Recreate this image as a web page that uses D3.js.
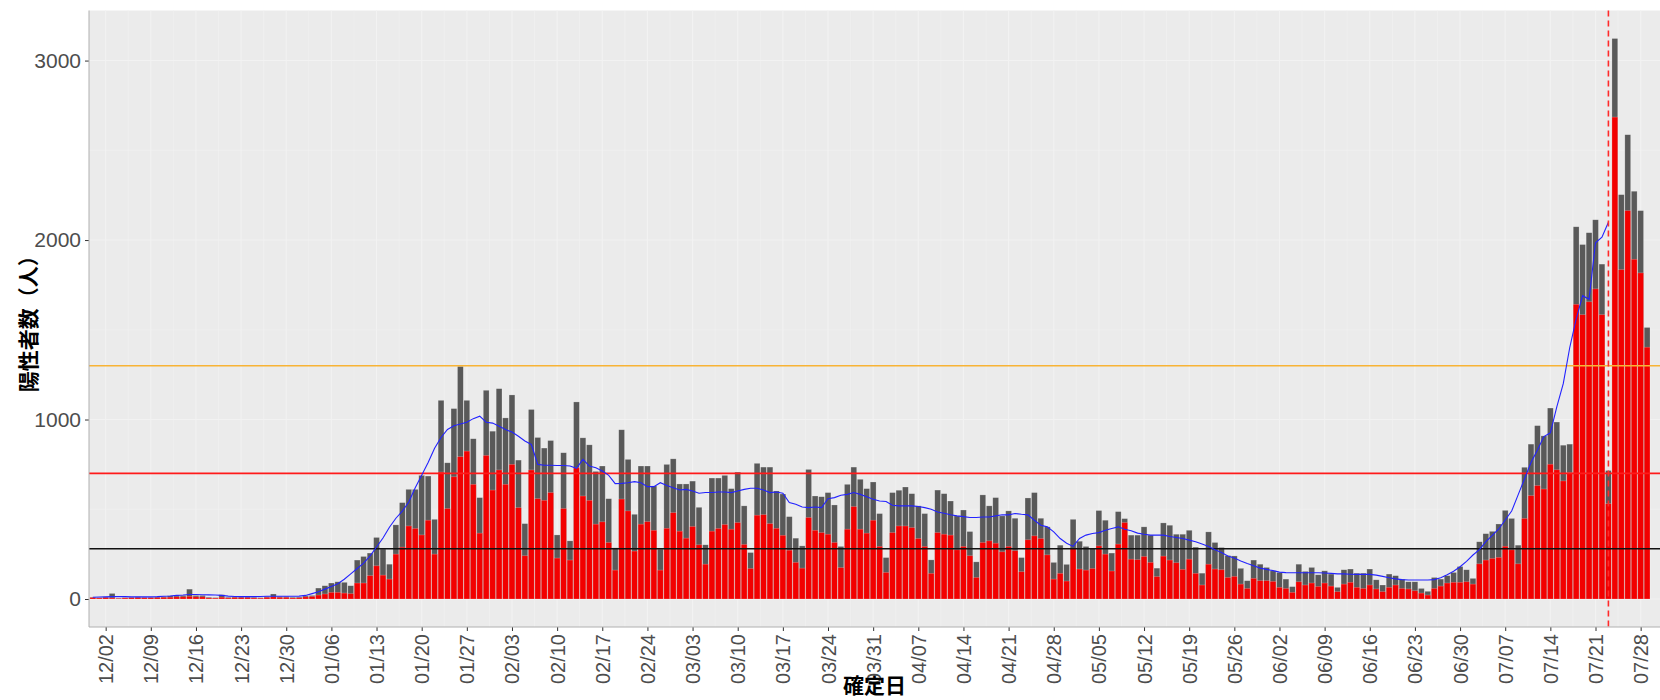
<!DOCTYPE html>
<html>
<head>
<meta charset="utf-8">
<script src="https://cdn.jsdelivr.net/npm/d3@7"></script>
<style>
  body { margin: 0; background: #fff; }
  svg { display: block; }
  text { font-family: "Liberation Sans", Arial, sans-serif; }
</style>
</head>
<body>
<svg id="chart" width="1660" height="700"></svg>
<script>
// daily data from 2020-11-30 to 2021-07-29
const firstDay = "2020-11-30";

// total positives per day (grey bar)
const totals = [
  10, 8, 12, 31, 5, 8, 10, 12, 10, 10, 12, 14, 18, 22, 20, 55, 20, 20, 10, 8,
  24, 10, 12, 12, 12, 10, 8, 14, 28, 14, 14, 10, 11, 18, 20, 61, 74, 89, 96, 93,
  74, 217, 237, 256, 343, 278, 194, 413, 537, 611, 611, 689, 685, 444, 1107, 759, 1061, 1296, 1107, 893,
  565, 1163, 935, 1172, 1009, 1137, 774, 420, 1056, 900, 841, 883, 357, 815, 324, 1098, 898, 859, 711, 741,
  559, 285, 943, 778, 472, 741, 741, 630, 278, 750, 781, 641, 641, 657, 511, 302, 674, 674, 689, 615,
  707, 519, 259, 756, 735, 735, 602, 585, 459, 339, 296, 722, 574, 570, 593, 524, 293, 639, 735, 667,
  615, 652, 476, 231, 593, 606, 624, 587, 519, 476, 218, 607, 587, 546, 463, 496, 376, 207, 580, 519,
  565, 463, 491, 450, 231, 563, 593, 450, 402, 204, 300, 193, 444, 322, 293, 281, 493, 439, 256, 487,
  448, 356, 356, 402, 356, 172, 424, 411, 361, 361, 383, 289, 144, 374, 315, 287, 242, 240, 171, 102,
  217, 194, 176, 157, 148, 111, 69, 194, 154, 176, 135, 157, 139, 65, 163, 167, 144, 144, 167, 107,
  78, 139, 130, 111, 96, 96, 59, 43, 120, 111, 130, 148, 181, 163, 115, 319, 364, 377, 418, 494,
  449, 300, 734, 863, 966, 909, 1064, 986, 857, 863, 2074, 1975, 2041, 2113, 1866, 716, 3123, 2253, 2587, 2272,
  2164, 1513
];

// red part of each day's bar
const reds = [
  8, 6, 8, 6, 4, 6, 7, 8, 7, 7, 8, 9, 10, 12, 12, 15, 12, 12, 6, 5,
  10, 6, 8, 8, 8, 6, 5, 9, 12, 9, 9, 6, 7, 12, 14, 22, 28, 37, 37, 33,
  30, 89, 89, 130, 185, 133, 111, 250, 289, 407, 393, 357, 439, 250, 707, 504, 681, 793, 824, 639,
  367, 800, 607, 719, 639, 750, 509, 241, 719, 559, 550, 593, 228, 504, 217, 731, 574, 550, 417, 430,
  315, 161, 557, 491, 267, 417, 431, 383, 161, 394, 481, 378, 339, 404, 302, 194, 378, 393, 415, 389,
  426, 304, 170, 467, 470, 420, 394, 355, 272, 204, 172, 454, 383, 370, 361, 315, 175, 389, 515, 389,
  367, 439, 293, 148, 370, 407, 407, 398, 337, 293, 143, 370, 361, 356, 274, 293, 241, 120, 315, 324,
  311, 263, 293, 269, 152, 330, 352, 337, 246, 111, 143, 100, 280, 167, 161, 170, 296, 250, 156, 306,
  426, 222, 219, 237, 204, 125, 239, 217, 202, 165, 222, 143, 78, 194, 167, 163, 120, 126, 83, 59,
  115, 102, 102, 98, 65, 59, 37, 96, 78, 89, 70, 89, 72, 41, 83, 93, 65, 59, 78, 56,
  41, 65, 78, 59, 56, 46, 33, 22, 59, 72, 89, 93, 93, 96, 83, 196, 217, 226, 232, 294,
  274, 196, 449, 576, 632, 613, 751, 720, 658, 704, 1642, 1584, 1656, 1728, 1584, 531, 2685, 1835, 2164, 1893,
  1817, 1403
];

// blue line (average), ends on 2021-07-23
const average = [
  10, 11, 12, 13, 13, 13, 12, 12, 12, 12, 13, 15, 17, 20, 22, 25, 25, 24, 23, 22,
  20, 16, 14, 13, 13, 13, 14, 15, 15, 15, 15, 15, 16, 20, 30, 40, 55, 70, 85, 110,
  140, 170, 200, 240, 290, 340, 400, 450, 490, 540, 620, 690, 760, 840, 900, 945, 965, 975, 985, 1005,
  1019, 985, 980, 963, 944, 930, 907, 880, 861, 750, 745, 745, 744, 744, 741, 728, 778, 741, 731, 713,
  689, 643, 644, 648, 654, 648, 626, 626, 648, 633, 620, 607, 611, 602, 589, 593, 593, 596, 596, 593,
  602, 611, 617, 617, 607, 593, 596, 589, 537, 528, 513, 509, 513, 509, 559, 565, 578, 583, 593, 583,
  570, 556, 546, 543, 522, 519, 519, 519, 515, 509, 500, 485, 478, 469, 463, 459, 454, 454, 457, 457,
  463, 469, 469, 476, 472, 469, 439, 411, 402, 374, 337, 311, 293, 337, 356, 365, 370, 383, 393, 402,
  389, 380, 367, 361, 356, 356, 356, 348, 343, 337, 328, 319, 306, 293, 274, 259, 240, 228, 212, 198,
  185, 172, 165, 158, 150, 147, 146, 146, 146, 146, 146, 145, 143, 140, 140, 138, 137, 137, 137, 133,
  126, 118, 112, 108, 106, 106, 106, 106, 108, 118, 135, 155, 180, 210, 245, 275, 320, 355, 390, 440,
  490, 580, 670, 760, 830, 905, 926, 1070, 1200, 1400, 1560, 1690, 1670, 1985, 2016, 2099
];

const tickLabels = [
  "12/02", "12/09", "12/16", "12/23", "12/30", "01/06", "01/13", "01/20", "01/27",
  "02/03", "02/10", "02/17", "02/24", "03/03", "03/10", "03/17", "03/24", "03/31",
  "04/07", "04/14", "04/21", "04/28", "05/05", "05/12", "05/19", "05/26", "06/02",
  "06/09", "06/16", "06/23", "06/30", "07/07", "07/14", "07/21", "07/28"
];
const yTicks = [0, 1000, 2000, 3000];
const thresholds = [1300, 700, 280];
const thresholdColors = ["#F8B335", "#FF1A1A", "#111111"];
const markerDate = "2021-07-23";

const svg = d3.select("#chart");
const panel = { left: 89, right: 1660, top: 10.5, bottom: 627 };

const parse = d3.timeParse("%Y-%m-%d");
const start = parse(firstDay);
const dates = totals.map((d, i) => d3.timeDay.offset(start, i));
const tickDates = tickLabels.map(s => {
  const m = +s.slice(0, 2);
  return parse((m >= 11 ? "2020-" : "2021-") + s.replace("/", "-"));
});

const x = d3.scaleTime()
  .domain([d3.timeHour.offset(start, -13.4), d3.timeDay.offset(start, 243)])
  .range([panel.left, panel.right]);
const y = d3.scaleLinear()
  .domain([-156, 3279])
  .range([panel.bottom, panel.top]);

const bw = (x(dates[1]) - x(dates[0])) * 0.9;

//panel background
svg.append("rect")
  .attr("x", panel.left).attr("y", panel.top)
  .attr("width", panel.right - panel.left).attr("height", panel.bottom - panel.top)
  .attr("fill", "#EBEBEB");

//grid
const grid = svg.append("g");
const minorX = tickDates.map(d => d3.timeHour.offset(d, 84));
grid.selectAll(".vminor").data(minorX).enter().append("line")
  .attr("x1", d => x(d)).attr("x2", d => x(d))
  .attr("y1", panel.top).attr("y2", panel.bottom)
  .attr("stroke", "#F1F1F1").attr("stroke-width", 0.6);
grid.selectAll(".vmajor").data(tickDates).enter().append("line")
  .attr("x1", d => x(d)).attr("x2", d => x(d))
  .attr("y1", panel.top).attr("y2", panel.bottom)
  .attr("stroke", "#F2F2F2").attr("stroke-width", 1.1);
grid.selectAll(".hminor").data([500, 1500, 2500]).enter().append("line")
  .attr("x1", panel.left).attr("x2", panel.right)
  .attr("y1", d => y(d)).attr("y2", d => y(d))
  .attr("stroke", "#F1F1F1").attr("stroke-width", 0.6);
grid.selectAll(".hmajor").data(yTicks).enter().append("line")
  .attr("x1", panel.left).attr("x2", panel.right)
  .attr("y1", d => y(d)).attr("y2", d => y(d))
  .attr("stroke", "#F2F2F2").attr("stroke-width", 1.1);

//bars: grey total, red part on top of it from zero
const bars = svg.append("g");
bars.selectAll(".total").data(totals).enter().append("rect")
  .attr("x", (d, i) => x(dates[i]) - bw / 2)
  .attr("width", bw)
  .attr("y", d => y(d))
  .attr("height", d => y(0) - y(d))
  .attr("fill", "#595959")
  .attr("stroke", "#ffffff").attr("stroke-opacity", 0.35).attr("stroke-width", 0.6);
bars.selectAll(".red").data(reds).enter().append("rect")
  .attr("x", (d, i) => x(dates[i]) - bw / 2)
  .attr("width", bw)
  .attr("y", d => y(d))
  .attr("height", d => y(0) - y(d))
  .attr("fill", "#F20000")
  .attr("stroke", "#ffffff").attr("stroke-opacity", 0.35).attr("stroke-width", 0.6);

//threshold lines
svg.selectAll(".hline").data(thresholds).enter().append("line")
  .attr("x1", panel.left).attr("x2", panel.right)
  .attr("y1", d => y(d)).attr("y2", d => y(d))
  .attr("stroke", (d, i) => thresholdColors[i])
  .attr("stroke-width", 1.6);

//average line
const line = d3.line()
  .x((d, i) => x(dates[i]))
  .y(d => y(d));
svg.append("path")
  .datum(average)
  .attr("fill", "none")
  .attr("stroke", "#2222FF")
  .attr("stroke-width", 1.1)
  .attr("d", line);

//marker date
const md = parse(markerDate);
svg.append("line")
  .attr("x1", x(md)).attr("x2", x(md))
  .attr("y1", panel.top).attr("y2", panel.bottom)
  .attr("stroke", "#FF2A2A").attr("stroke-width", 1.6)
  .attr("stroke-dasharray", "6,4");

//axes
const xAxis = svg.append("g")
  .attr("transform", `translate(0,${panel.bottom})`)
  .call(d3.axisBottom(x).tickValues(tickDates).tickFormat((d, i) => tickLabels[i]).tickSize(4).tickPadding(4));
xAxis.select(".domain").remove();
xAxis.selectAll("line").attr("stroke", "#333");
xAxis.selectAll("text")
  .attr("transform", "rotate(-90)")
  .attr("text-anchor", "end")
  .attr("x", -7).attr("y", 0).attr("dy", "0.35em")
  .attr("fill", "#4D4D4D")
  .style("font-size", "20px");

const yAxis = svg.append("g")
  .attr("transform", `translate(${panel.left},0)`)
  .call(d3.axisLeft(y).tickValues(yTicks).tickFormat(d3.format("d")).tickSize(4).tickPadding(4));
yAxis.select(".domain").remove();
yAxis.selectAll("line").attr("stroke", "#333");
yAxis.selectAll("text")
  .attr("fill", "#4D4D4D")
  .style("font-size", "21px");

//axis lines
svg.append("line")
  .attr("x1", panel.left).attr("x2", panel.left)
  .attr("y1", panel.top).attr("y2", panel.bottom)
  .attr("stroke", "#B0B0B0").attr("stroke-width", 1);
svg.append("line")
  .attr("x1", panel.left).attr("x2", panel.right)
  .attr("y1", panel.bottom).attr("y2", panel.bottom)
  .attr("stroke", "#B0B0B0").attr("stroke-width", 1);

//axis titles
svg.append("text")
  .attr("transform", `translate(29,${(panel.top + panel.bottom) / 2}) rotate(-90)`)
  .attr("text-anchor", "middle")
  .attr("dy", "0.35em")
  .style("font-family", "'Noto Sans CJK JP', sans-serif")
  .style("font-size", "21px")
  .style("font-weight", "bold")
  .text("陽性者数（人）");
svg.append("text")
  .attr("x", (panel.left + panel.right) / 2)
  .attr("y", 693)
  .attr("text-anchor", "middle")
  .style("font-family", "'Noto Sans CJK JP', sans-serif")
  .style("font-size", "21px")
  .style("font-weight", "bold")
  .text("確定日");
</script>
</body>
</html>
